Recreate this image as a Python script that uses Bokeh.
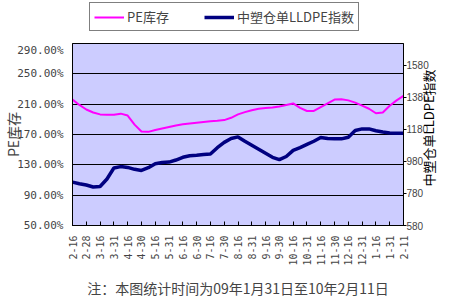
import math
from bokeh.plotting import figure
from bokeh.layouts import column
from bokeh.models import (Range1d, LinearAxis, FixedTicker, PrintfTickFormatter,
                          Legend, LegendItem, ColumnDataSource)
from bokeh.embed import file_html
from bokeh.resources import INLINE

# ---- data ----
date_labels = ["2-16", "2-28", "3-16", "3-31", "4-16", "4-30", "5-16", "5-31",
               "6-16", "6-30", "7-16", "7-30", "8-16", "8-31", "9-16", "9-30",
               "10-16", "10-31", "11-16", "11-30", "12-16", "12-31", "1-16",
               "1-31", "2-11"]

# samples every half label interval (49 points), PE库存 in %
pe_stock = [216, 209, 203, 199, 196.5, 196, 196, 197.5, 195, 183,
            174, 173.5, 176, 178, 180, 182, 183.5, 184.5, 185.5, 186.5,
            187.5, 188, 189, 192, 196.5, 199.5, 202, 204, 205, 205.5,
            207, 209, 211, 205, 201, 201, 206, 211, 216, 216.5,
            215, 212, 208, 204, 198, 199, 208, 215, 221]

# 中塑仓单LLDPE指数
lldpe_index = [850, 840, 832, 820, 823, 870, 938, 947, 942, 930,
               923, 940, 965, 972, 975, 988, 1005, 1015, 1018, 1022,
               1025, 1065, 1098, 1122, 1132, 1105, 1080, 1055, 1030, 1005,
               990, 1010, 1048, 1065, 1085, 1105, 1128, 1122, 1120, 1120,
               1130, 1172, 1182, 1182, 1170, 1162, 1157, 1155, 1155]

sample_pos = [i / 2 for i in range(len(pe_stock))]

left_ticks = [50, 90, 130, 170, 210, 250, 290]
right_ticks = [580, 780, 980, 1180, 1380, 1580]
right_max = 1714

left_title = "PE库存"
right_title = "中塑仓单LLDPE指数"
series_names = ["PE库存", "中塑仓单LLDPE指数"]
note = "注：本图统计时间为09年1月31日至10年2月11日"

CJK = "Noto Sans CJK SC"
MONO = "DejaVu Sans Mono"
PINK = "#FF00FF"
NAVY = "#000080"

src = ColumnDataSource(dict(x=sample_pos, pe=pe_stock, idx=lldpe_index))

# ---------------- main chart ----------------
p = figure(width=450, height=257, output_backend="svg", toolbar_location=None,
           x_range=Range1d(0, len(date_labels) - 1),
           y_range=Range1d(left_ticks[0], left_ticks[-1]),
           min_border_left=72, min_border_right=45, min_border_top=0,
           min_border_bottom=75)
p.extra_y_ranges = {"right": Range1d(right_ticks[0], right_max)}

p.background_fill_color = "#CCCCFF"
p.border_fill_color = "white"
p.outline_line_color = "black"
p.outline_line_width = 1

p.xgrid.visible = False
p.ygrid.ticker = FixedTicker(ticks=left_ticks)
p.ygrid.grid_line_color = "black"
p.ygrid.grid_line_width = 1

# x axis
xa = p.xaxis[0]
xa.ticker = FixedTicker(ticks=list(range(len(date_labels))))
xa.major_label_overrides = {i: lab for i, lab in enumerate(date_labels)}
xa.major_label_orientation = math.pi / 2
xa.major_label_text_font = MONO
xa.major_label_text_font_size = "10px"
xa.major_label_standoff = 10
xa.major_tick_in = 4
xa.major_tick_out = 0
xa.minor_tick_line_color = None
xa.axis_line_color = "black"
xa.major_tick_line_color = "black"
xa.axis_label = note
xa.axis_label_text_font = CJK
xa.axis_label_text_font_size = "14px"
xa.axis_label_text_font_style = "normal"
xa.axis_label_standoff = 9

# left axis
ya = p.yaxis[0]
ya.ticker = FixedTicker(ticks=left_ticks)
ya.formatter = PrintfTickFormatter(format="%.2f%%")
ya.major_label_text_font = MONO
ya.major_label_text_font_size = "11px"
ya.major_label_standoff = 9
ya.major_tick_in = 0
ya.major_tick_out = 0
ya.minor_tick_line_color = None
ya.axis_line_color = "black"
ya.axis_label = left_title
ya.axis_label_text_font = CJK
ya.axis_label_text_font_size = "14px"
ya.axis_label_text_font_style = "normal"
ya.axis_label_standoff = -9

# right axis (index scale)
ra = LinearAxis(y_range_name="right", ticker=FixedTicker(ticks=right_ticks))
ra.major_label_text_font = "Liberation Sans"
ra.major_label_text_font_size = "10px"
ra.major_label_standoff = 0
ra.major_tick_in = 0
ra.major_tick_out = 3
ra.minor_tick_line_color = None
ra.axis_line_color = "black"
p.add_layout(ra, "right")

# right-hand title, reading bottom-to-top like the reference
mid = (left_ticks[0] + left_ticks[-1]) // 2
rt = LinearAxis(ticker=FixedTicker(ticks=[mid]))
rt.major_label_overrides = {mid: right_title}
rt.major_label_orientation = math.pi / 2
rt.major_label_text_font = CJK
rt.major_label_text_font_size = "13px"
rt.major_label_text_color = "black"
rt.major_label_standoff = -3
rt.major_tick_line_color = None
rt.minor_tick_line_color = None
rt.axis_line_color = None
rt.major_tick_in = 0
rt.major_tick_out = 0
p.add_layout(rt, "right")

p.line("x", "pe", source=src, line_color=PINK, line_width=2)
p.line("x", "idx", source=src, y_range_name="right",
       line_color=NAVY, line_width=3.5)

# ---------------- legend strip above the chart ----------------
top = figure(width=450, height=43, output_backend="svg", toolbar_location=None,
             x_range=Range1d(0, 1), y_range=Range1d(0, 1),
             x_axis_location=None, y_axis_location=None,
             min_border_left=0, min_border_right=0, min_border_top=0,
             min_border_bottom=0)
top.grid.visible = False
top.outline_line_color = None
top.background_fill_color = "white"
top.border_fill_color = "white"
# the series again, entirely outside this strip's 0..1 range (only their
# legend glyphs show)
k1 = top.line("x", "pe", source=src, line_color=PINK, line_width=2)
k2 = top.line("x", "idx", source=src, line_color=NAVY, line_width=3.5)

legend = Legend(items=[LegendItem(label=series_names[0], renderers=[k1]),
                       LegendItem(label=series_names[1], renderers=[k2])],
                orientation="horizontal", location=(17, 12),
                glyph_width=30, glyph_height=14, label_height=14,
                label_width=72, label_standoff=3, spacing=5, padding=4,
                margin=0, border_line_color="black", border_line_width=1,
                background_fill_color="white", background_fill_alpha=1,
                label_text_font=CJK, label_text_font_size="13px")
top.add_layout(legend, "center")

layout = column(top, p, spacing=0)
open("out.html", "w").write(file_html(layout, INLINE))
